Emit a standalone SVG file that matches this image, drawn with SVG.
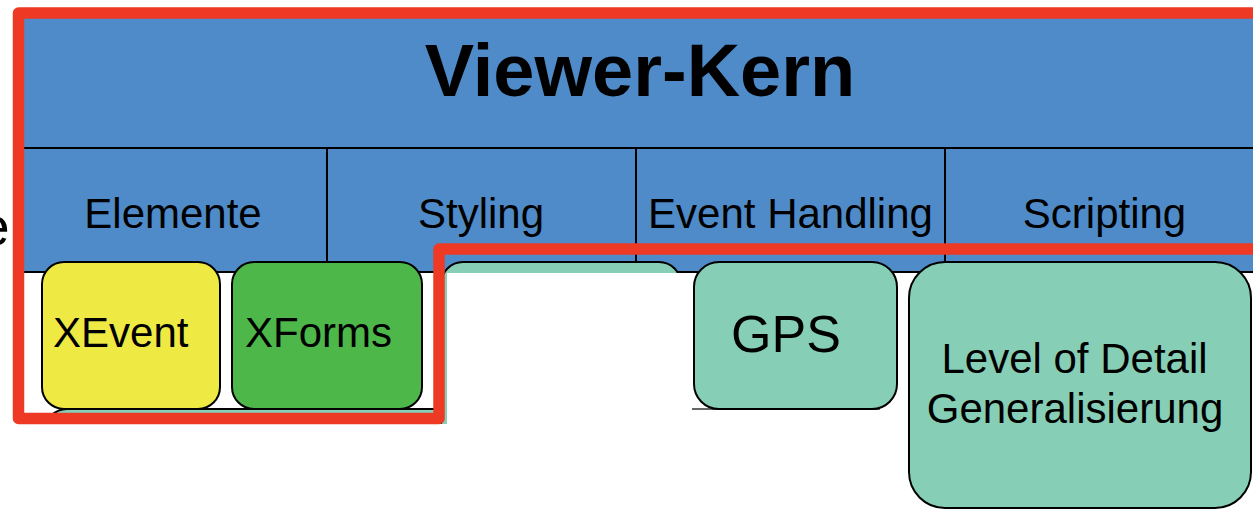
<svg xmlns="http://www.w3.org/2000/svg" width="1253" height="509" viewBox="0 0 1253 509">
  <style>
    .lbl { font-family: "Liberation Sans", Arial, sans-serif; fill: #000; }
    .head { font-size: 42px; text-anchor: middle; }
    .node { stroke: #000; stroke-width: 2; }
    .teal { fill: #86CFB6; }
    .grid { stroke: #000; stroke-width: 2; fill: none; }
    .mask { fill: #fff; stroke: none; }
  </style>
  <rect width="1253" height="509" fill="#fff"/>

  <!-- clipped word on the far left -->
  <text class="lbl" x="9.5" y="245" font-size="54" text-anchor="end">e</text>

  <!-- core block with its four columns -->
  <g id="viewer-kern">
    <rect x="20" y="16" width="1240" height="256" fill="#4E8BC8"/>
    <line class="grid" x1="20" y1="148" x2="1253" y2="148"/>
    <line class="grid" x1="20" y1="272" x2="1253" y2="272"/>
    <line class="grid" x1="327" y1="148" x2="327" y2="272"/>
    <line class="grid" x1="636" y1="148" x2="636" y2="272"/>
    <line class="grid" x1="945" y1="148" x2="945" y2="272"/>
    <text class="lbl" x="640" y="96" font-size="74" font-weight="bold" text-anchor="middle">Viewer-Kern</text>
    <text class="lbl head" x="173" y="228">Elemente</text>
    <text class="lbl head" x="481" y="228">Styling</text>
    <text class="lbl head" x="790.5" y="228">Event Handling</text>
    <text class="lbl head" x="1104.5" y="228">Scripting</text>
  </g>

  <!-- modules partly hidden behind the white panes -->
  <g id="module-lower">
    <rect class="node teal" x="45" y="409" width="420" height="120" rx="22"/>
  </g>
  <g id="module-styling">
    <rect class="node teal" x="441" y="262" width="240" height="200" rx="22"/>
  </g>
  <g id="panes">
    <rect class="mask" x="447" y="273" width="246" height="236"/>
    <rect class="mask" x="0" y="424" width="447" height="85"/>
  </g>

  <g id="xevent">
    <rect class="node" x="42" y="262" width="178" height="147" rx="22" fill="#EEE943"/>
    <text class="lbl" x="53" y="346.5" font-size="42">XEvent</text>
  </g>
  <g id="xforms">
    <rect class="node" x="232" y="262" width="190" height="147" rx="22" fill="#4DB849"/>
    <text class="lbl" x="245" y="346.5" font-size="42">XForms</text>
  </g>
  <g id="gps">
    <line x1="692" y1="409" x2="880" y2="409" stroke="#333" stroke-width="1.5"/>
    <rect class="node teal" x="694" y="262" width="203" height="147" rx="25"/>
    <text class="lbl" x="786" y="351.5" font-size="52" text-anchor="middle">GPS</text>
  </g>
  <g id="level-of-detail">
    <rect class="node teal" x="909" y="262" width="342" height="246" rx="36"/>
    <text class="lbl" x="1074.5" y="372.5" font-size="42" text-anchor="middle">Level of Detail</text>
    <text class="lbl" x="1075" y="422.5" font-size="42" text-anchor="middle">Generalisierung</text>
  </g>

  <!-- red outline around the highlighted area -->
  <g id="connectors">
    <path d="M1260 13 H18.5 V418.5 H439 V249 H1260" fill="none" stroke="#EE3A24" stroke-width="11.5" stroke-linejoin="round"/>
  </g>
</svg>
